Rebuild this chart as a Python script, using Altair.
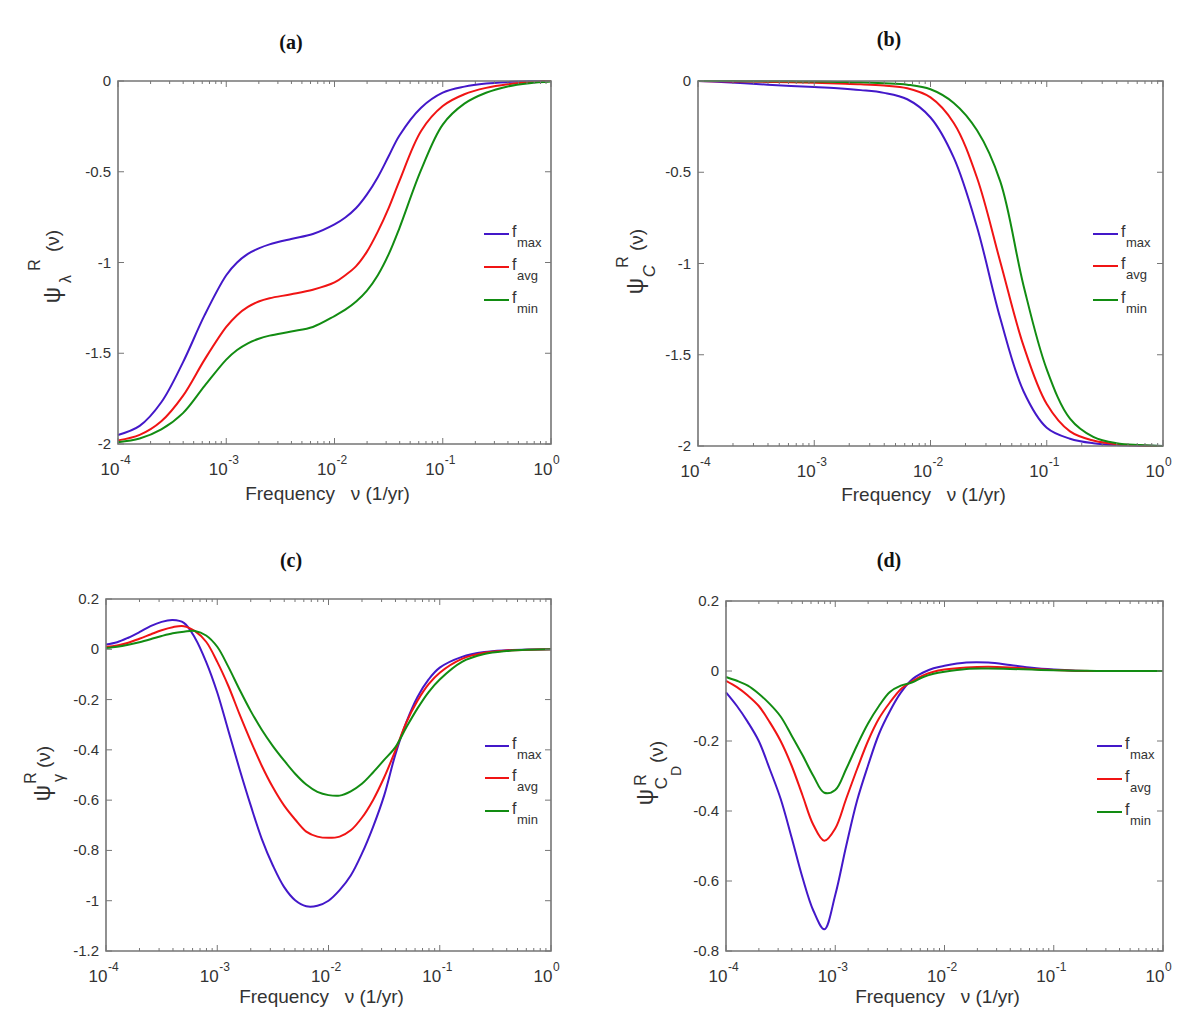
import altair as alt
import pandas as pd

# ---------------- data ----------------
SERIES = ["max", "avg", "min"]
COLORS = ["#4318c9", "#f01414", "#128c12"]

XTICK_VALUES = [1e-4, 1e-3, 1e-2, 1e-1, 1.0]
XTICK_BASE = ["10", "10", "10", "10", "10"]
XTICK_EXP = ["-4", "-3", "-2", "-1", "0"]
XMINOR = [m * d for d in [1e-4, 1e-3, 1e-2, 1e-1] for m in [2, 3, 4, 5, 6, 7, 8, 9]]
XTITLE = "Frequency\u00a0\u00a0\u00a0\u03bd (1/yr)"

# panel (a): psi_lambda
lx_a = [-4.0, -3.8, -3.6, -3.4, -3.2, -3.0, -2.9, -2.8, -2.7, -2.6, -2.4, -2.2, -2.0,
        -1.9, -1.8, -1.7, -1.6, -1.5, -1.4, -1.2, -1.0, -0.8, -0.6, -0.4, -0.2, 0.0]
a_max = [-1.95, -1.90, -1.77, -1.55, -1.29, -1.07, -1.0, -0.952, -0.922, -0.90, -0.87, -0.843, -0.79,
         -0.752, -0.70, -0.625, -0.53, -0.415, -0.30, -0.147, -0.064, -0.031, -0.014, -0.006, -0.002, 0.0]
a_avg = [-1.98, -1.95, -1.875, -1.735, -1.535, -1.355, -1.29, -1.245, -1.215, -1.197, -1.175, -1.15, -1.11,
         -1.07, -1.02, -0.94, -0.83, -0.70, -0.55, -0.275, -0.138, -0.073, -0.038, -0.018, -0.007, 0.0]
a_min = [-1.99, -1.97, -1.92, -1.83, -1.68, -1.535, -1.482, -1.445, -1.42, -1.403, -1.38, -1.355, -1.295,
         -1.26, -1.215, -1.155, -1.07, -0.955, -0.81, -0.49, -0.24, -0.125, -0.065, -0.03, -0.012, -0.003]

# panel (b): psi_C
lx_b = [-4.0, -3.8, -3.6, -3.4, -3.2, -3.0, -2.8, -2.6, -2.4, -2.2, -2.0,
        -1.8, -1.6, -1.4, -1.2, -1.0, -0.8, -0.6, -0.4, -0.2, 0.0]
b_max = [0.0, -0.005, -0.012, -0.02, -0.027, -0.033, -0.04, -0.05, -0.065, -0.10, -0.20,
         -0.42, -0.80, -1.30, -1.70, -1.90, -1.96, -1.985, -1.995, -1.998, -2.0]
b_avg = [0.0, -0.002, -0.003, -0.005, -0.007, -0.01, -0.014, -0.018, -0.025, -0.04, -0.09,
         -0.23, -0.53, -0.99, -1.45, -1.77, -1.92, -1.97, -1.99, -1.997, -2.0]
b_min = [0.0, 0.0, -0.001, -0.001, -0.002, -0.003, -0.005, -0.007, -0.012, -0.02, -0.045,
         -0.12, -0.27, -0.55, -1.12, -1.58, -1.85, -1.95, -1.985, -1.995, -2.0]

# panel (c): psi_gamma
lx_c = [-4.0, -3.9, -3.8, -3.7, -3.6, -3.5, -3.4, -3.3, -3.2, -3.1, -3.0,
        -2.9, -2.8, -2.7, -2.6, -2.5, -2.4, -2.3, -2.2, -2.1, -2.0,
        -1.9, -1.8, -1.7, -1.6, -1.5, -1.4, -1.3, -1.2, -1.1, -1.0,
        -0.8, -0.6, -0.4, -0.2, 0.0]
c_max = [0.019, 0.028, 0.046, 0.068, 0.092, 0.109, 0.116, 0.105, 0.045, -0.05, -0.172,
         -0.324, -0.476, -0.62, -0.754, -0.86, -0.945, -0.998, -1.022, -1.02, -1.0,
         -0.958, -0.90, -0.813, -0.707, -0.582, -0.42, -0.29, -0.19, -0.12, -0.073,
         -0.03, -0.011, -0.004, -0.001, 0.0]
c_avg = [0.01, 0.015, 0.026, 0.042, 0.059, 0.076, 0.088, 0.092, 0.072, 0.03, -0.05,
         -0.146, -0.258, -0.364, -0.463, -0.549, -0.621, -0.677, -0.725, -0.745, -0.75,
         -0.745, -0.72, -0.67, -0.60, -0.51, -0.404, -0.291, -0.205, -0.139, -0.093,
         -0.038, -0.014, -0.005, -0.002, 0.0]
c_min = [0.005, 0.01, 0.018, 0.028, 0.04, 0.053, 0.064, 0.07, 0.073, 0.055, 0.01,
         -0.07, -0.16, -0.245, -0.32, -0.385, -0.442, -0.495, -0.538, -0.567, -0.58,
         -0.582, -0.565, -0.535, -0.49, -0.44, -0.39, -0.31, -0.235, -0.17, -0.12,
         -0.05, -0.019, -0.007, -0.002, 0.0]

# panel (d): psi_CD
lx_d = [-4.0, -3.9, -3.8, -3.7, -3.6, -3.5, -3.4, -3.3, -3.2, -3.1, -3.0,
        -2.9, -2.8, -2.7, -2.6, -2.5, -2.4, -2.3, -2.2, -2.1, -2.0,
        -1.8, -1.6, -1.4, -1.2, -1.0, -0.8, -0.6, -0.4, -0.2, 0.0]
d_max = [-0.061, -0.10, -0.146, -0.20, -0.28, -0.365, -0.475, -0.59, -0.685, -0.738, -0.64,
         -0.50, -0.37, -0.27, -0.18, -0.115, -0.062, -0.025, -0.005, 0.008, 0.015,
         0.024, 0.024, 0.017, 0.009, 0.004, 0.001, 0.0, 0.0, 0.0, 0.0]
d_avg = [-0.028, -0.046, -0.07, -0.10, -0.146, -0.20, -0.27, -0.355, -0.44, -0.485, -0.45,
         -0.365, -0.28, -0.20, -0.136, -0.09, -0.052, -0.03, -0.013, -0.002, 0.004,
         0.01, 0.012, 0.01, 0.006, 0.003, 0.001, 0.0, 0.0, 0.0, 0.0]
d_min = [-0.017, -0.028, -0.042, -0.065, -0.094, -0.13, -0.184, -0.24, -0.30, -0.348, -0.34,
         -0.28, -0.212, -0.15, -0.10, -0.06, -0.042, -0.033, -0.018, -0.008, -0.002,
         0.006, 0.007, 0.006, 0.004, 0.002, 0.001, 0.0, 0.0, 0.0, 0.0]

YT_AB = [0.0, -0.5, -1.0, -1.5, -2.0]
YL_AB = ["0", "-0.5", "-1", "-1.5", "-2"]
YT_C = [0.2, 0.0, -0.2, -0.4, -0.6, -0.8, -1.0, -1.2]
YL_C = ["0.2", "0", "-0.2", "-0.4", "-0.6", "-0.8", "-1", "-1.2"]
YT_D = [0.2, 0.0, -0.2, -0.4, -0.6, -0.8]
YL_D = ["0.2", "0", "-0.2", "-0.4", "-0.6", "-0.8"]

# ---------------- style ----------------
SANS = "Liberation Sans"
SERIF = "Liberation Serif"
TXT = "#333333"
FRAME = "#767676"
ONE = pd.DataFrame({"k": [0]})


def panel(lx, vals, view, box, ydom, yticks, ylabels, title, tpos, ypieces, leg, xt_y, anchor=None):
    VW, VH = view
    ox, oy, W, H = box

    def fx(v):
        return alt.value(ox + v)

    def fy(v):
        return alt.value(oy + v)

    def fixed_text(text, x, y, size, **kw):
        return alt.Chart(ONE).mark_text(text=text, font=SANS, fontSize=size, color=TXT, **kw).encode(
            x=fx(x), y=fy(y))

    xs = alt.Scale(type="log", domain=[1e-4, 1.0], nice=False, range=[ox, ox + W])
    ys = alt.Scale(domain=ydom, nice=False, zero=False, range=[oy + H, oy])
    rows = []
    for s, v in zip(SERIES, vals):
        for l, val in zip(lx, v):
            rows.append({"nu": 10 ** l, "val": val, "series": s})
    df = pd.DataFrame(rows)
    layers = []
    layers.append(alt.Chart(df).mark_line(strokeWidth=2, interpolate="catmull-rom").encode(
        x=alt.X("nu:Q", scale=xs, axis=None),
        y=alt.Y("val:Q", scale=ys, axis=None),
        color=alt.Color("series:N", scale=alt.Scale(domain=SERIES, range=COLORS), legend=None),
    ))
    # frame
    layers.append(alt.Chart(ONE).mark_rect(filled=False, color=FRAME, strokeWidth=1.6).encode(
        x=fx(0), x2=fx(W), y=fy(0), y2=fy(H)))
    xt = pd.DataFrame({"t": XTICK_VALUES, "base": XTICK_BASE, "exp": XTICK_EXP})
    xm = pd.DataFrame({"t": XMINOR})
    for data, L in [(xt, 6), (xm, 3)]:
        layers.append(alt.Chart(data).mark_rule(color=FRAME, strokeWidth=1).encode(
            x=alt.X("t:Q", scale=xs, axis=None), y=fy(H), y2=fy(H - L)))
        layers.append(alt.Chart(data).mark_rule(color=FRAME, strokeWidth=1).encode(
            x=alt.X("t:Q", scale=xs, axis=None), y=fy(0), y2=fy(L)))
    yt = pd.DataFrame({"v": yticks, "lab": ylabels})
    layers.append(alt.Chart(yt).mark_rule(color=FRAME, strokeWidth=1).encode(
        y=alt.Y("v:Q", scale=ys, axis=None), x=fx(0), x2=fx(6)))
    layers.append(alt.Chart(yt).mark_rule(color=FRAME, strokeWidth=1).encode(
        y=alt.Y("v:Q", scale=ys, axis=None), x=fx(W - 6), x2=fx(W)))
    layers.append(alt.Chart(yt).mark_text(align="right", baseline="middle", font=SANS, fontSize=15,
                                          color=TXT).encode(
        y=alt.Y("v:Q", scale=ys, axis=None), x=fx(-7), text="lab:N"))
    # x tick labels 10^k
    layers.append(alt.Chart(xt).mark_text(align="center", baseline="middle", font=SANS, fontSize=17,
                                          color=TXT, dx=-8).encode(
        x=alt.X("t:Q", scale=xs, axis=None), y=fy(H + 26), text="base:N"))
    layers.append(alt.Chart(xt).mark_text(align="left", baseline="middle", font=SANS, fontSize=12,
                                          color=TXT, dx=2).encode(
        x=alt.X("t:Q", scale=xs, axis=None), y=fy(H + 16), text="exp:N"))
    # x title
    layers.append(fixed_text(XTITLE, W / 2 - 7, H + xt_y, 19, align="center", baseline="middle"))
    # y title pieces
    for txt, px, py, size, style in ypieces:
        kw = {"fontStyle": "italic"} if style == "i" else {}
        layers.append(fixed_text(txt, px, py, size, align="center", baseline="middle", angle=270, **kw))
    # legend
    x1, x2, ry = leg
    for i, (s, c) in enumerate(zip(SERIES, COLORS)):
        y = ry[i]
        layers.append(alt.Chart(ONE).mark_rule(color=c, strokeWidth=2).encode(
            x=fx(x1), x2=fx(x2), y=fy(y)))
        layers.append(fixed_text("f", x2 + 3, y + 3, 16, align="left", baseline="alphabetic"))
        layers.append(fixed_text(s, x2 + 8, y + 13, 13, align="left", baseline="alphabetic"))
    # panel title
    layers.append(alt.Chart(ONE).mark_text(text=title, font=SERIF, fontSize=20, fontWeight="bold",
                                           color="#111111", align="center", baseline="middle").encode(
        x=fx(tpos[0]), y=fy(tpos[1])))
    if anchor is not None:
        layers.append(alt.Chart(ONE).mark_rule(color="white", strokeWidth=1).encode(
            x=alt.value(anchor[0]), x2=alt.value(anchor[0] + 1),
            y=alt.value(anchor[1]), y2=alt.value(anchor[1] + 1)))
    return alt.layer(*layers).properties(width=VW, height=VH)


# view sizes: column 1 width 445, column 2 width 465; row 1 height 365, row 2 height 352
pa = panel(lx_a, [a_max, a_avg, a_min], (445, 365), (12, 0, 433, 363), [-2.0, 0.0], YT_AB, YL_AB,
           "(a)", (173, -38),
           [("\u03c8", -65, 214, 23, "n"), ("\u03bb", -52, 198, 16, "n"),
            ("R", -83, 184, 16, "n"), ("(\u03bd)", -65, 160, 19, "n")],
           (366, 391, [153, 186, 219]), 50, anchor=(-97, -72))
pb = panel(lx_b, [b_max, b_avg, b_min], (465, 365), (0, 0, 465, 365), [-2.0, 0.0], YT_AB, YL_AB,
           "(b)", (191, -41),
           [("\u03c8", -62, 205, 23, "n"), ("C", -48, 190, 17, "i"),
            ("R", -75, 181, 16, "n"), ("(\u03bd)", -61, 159, 19, "n")],
           (395, 420, [153, 185, 219]), 49)
pc = panel(lx_c, [c_max, c_avg, c_min], (445, 352), (0, 0, 445, 352), [-1.2, 0.2], YT_C, YL_C,
           "(c)", (185, -38),
           [("\u03c8", -63, 194, 23, "n"), ("\u03b3", -47, 179, 16, "n"),
            ("R", -75, 179, 16, "n"), ("(\u03bd)", -62, 158, 19, "n")],
           (379, 403, [147, 179, 212]), 46)
pd_ = panel(lx_d, [d_max, d_avg, d_min], (465, 352), (28, 2, 437, 350), [-0.8, 0.2], YT_D, YL_D,
            "(d)", (163, -40),
            [("\u03c8", -80, 196, 23, "n"), ("C", -64, 182, 17, "n"), ("D", -49, 170, 14, "n"),
             ("R", -85, 179, 16, "n"), ("(\u03bd)", -69, 151, 19, "n")],
            (371, 396, [145, 178, 211]), 46)

chart = alt.concat(pa, pb, pc, pd_, columns=2, bounds="flush",
                   spacing={"row": 153, "column": 147}).properties(
    padding=0, background="white"
).configure_view(strokeOpacity=0)

chart.save("out.html", embed_options={"renderer": "svg", "actions": False})
